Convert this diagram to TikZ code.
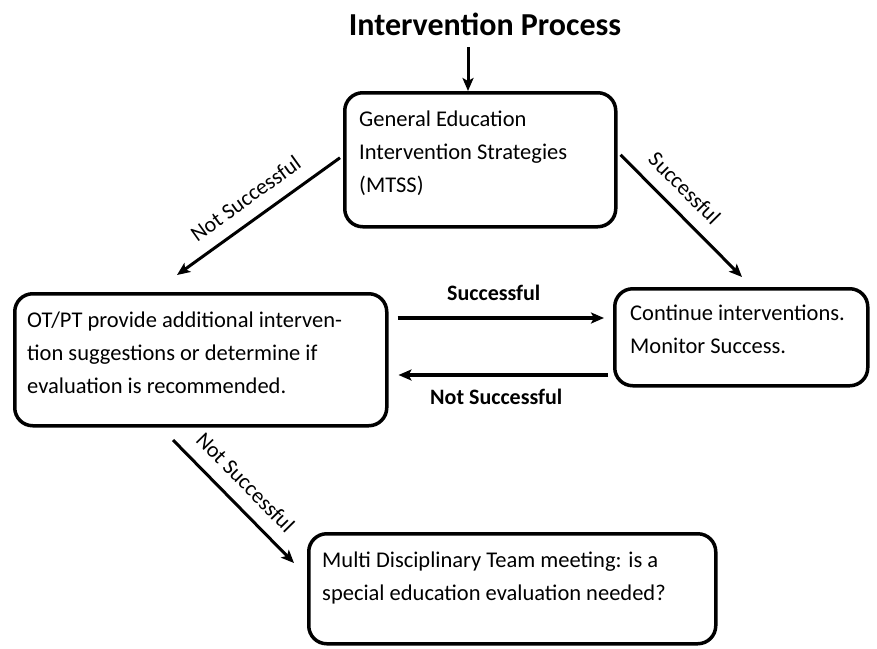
\documentclass[tikz,border=0pt]{standalone}
\usepackage{fontspec}
\setmainfont{Carlito}
\usetikzlibrary{arrows.meta, calc}
\tikzset{box/.style={draw, line width=3.5pt, rounded corners=18pt, anchor=north west},
	txt/.style={anchor=north west, inner sep=0pt, align=left, font=\fontsize{22.5}{33}\selectfont},
	arr/.style={line width=3pt, -{Stealth[length=13pt, width=11pt, inset=3pt]}},
	lbl/.style={sloped, above=13pt, inner sep=0pt, font=\fontsize{22}{26}\selectfont},
	blbl/.style={inner sep=0pt, font=\bfseries\fontsize{22}{26}\selectfont}}
\begin{document}
\begin{tikzpicture}[x=1pt, y=-1pt]
	\useasboundingbox (0,0) rectangle (877,648);
	\node[anchor=base, font=\bfseries\fontsize{32}{38}\selectfont] (IP) at (485,35) {Intervention Process};

	\node[box, minimum width=271pt, minimum height=134pt] (GE) at (343,91) {};
	\node[box, minimum width=372pt, minimum height=132pt] (OT) at (13,292) {};
	\node[box, minimum width=253pt, minimum height=97pt] (CI) at (613,287) {};
	\node[box, minimum width=407pt, minimum height=110pt] (MD) at (307,532) {};

	\node[txt] (GEt) at ($(GE.north west)+(16,20)$) {General Education\\Intervention Strategies\\(MTSS)};
	\node[txt] (OTt) at ($(OT.north west)+(14,20)$) {OT/PT provide additional interven-\\tion suggestions or determine if\\evaluation is recommended.};
	\node[txt] (CIt) at ($(CI.north west)+(17,18)$) {Continue interventions.\\Monitor Success.};
	\node[txt] (MDt) at ($(MD.north west)+(15,20)$) {Multi Disciplinary Team meeting: is a\\special education evaluation needed?};

	\coordinate (in) at (468,47);
	\coordinate (OTin) at (177,275);
	\coordinate (CIin) at (742,277);
	\coordinate (OTout) at (173,440);
	\coordinate (MDin) at (294,563);
	\coordinate (hi) at (0,318);
	\coordinate (lo) at (0,375);

	\draw[arr] (in) to (in |- GE.north);
	\draw[arr]
	($(GE.west)+(-3,-2)$) to node[lbl] {Not Successful} (OTin);
	\draw[arr]
	($(GE.east)+(3,-5)$) to node[lbl, pos=.4] {Successful} (CIin);
	\draw[arr]
	(OTout) to node[lbl, pos=.47] {Not Successful} (MDin);
	\draw[arr, line width=4pt]
	($(OT.east |- hi)+(9,0)$) to node[blbl, above=15pt, xshift=-7pt] {Successful} ($(CI.west |- hi)+(-9,0)$);
	\draw[arr, line width=4pt]
	($(CI.west |- lo)+(-5,0)$) to node[blbl, below=12pt, xshift=-7pt] {Not Successful} ($(OT.east |- lo)+(10,0)$);

\end{tikzpicture}
\end{document}
